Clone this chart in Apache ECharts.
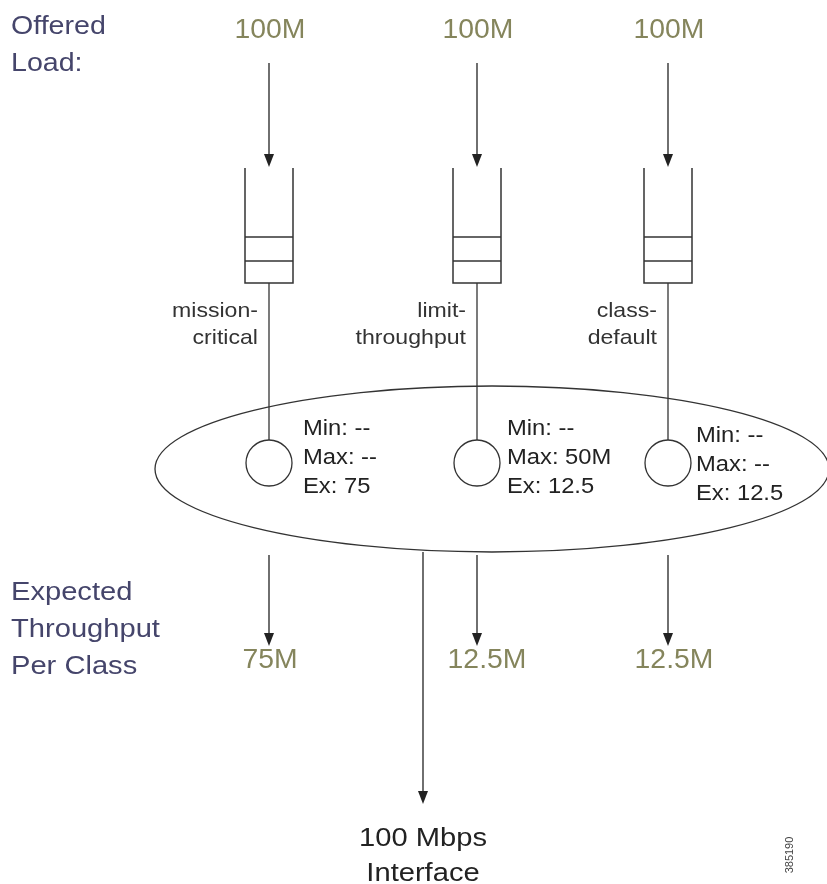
<!DOCTYPE html>
<html>
<head>
<meta charset="utf-8">
<script src="https://cdn.jsdelivr.net/npm/echarts@6/dist/echarts.min.js"></script>
<style>
  html, body { margin: 0; padding: 0; background: #fff; }
  #chart { width: 827px; height: 884px; }
</style>
</head>
<body>
<div id="chart"></div>
<script>
// data
var classNames = ['mission-\ncritical', 'limit-\nthroughput', 'class-\ndefault'];
var offeredLoad = ['100M', '100M', '100M'];
var minBw = ['--', '--', '--'];
var maxBw = ['--', '50M', '--'];
var excessShare = ['75', '12.5', '12.5'];
var expectedThroughput = ['75M', '12.5M', '12.5M'];
var interfaceLabel = '100 Mbps\nInterface';
var figureId = '385190';

// layout (pixel units on hidden axes)
var colX = [269, 477, 668];
var infoX = [303, 507, 696];
var infoY = [458, 458, 465];
var expectedDx = [1, 10, 6];

var font = '"Liberation Sans", Arial, sans-serif';
var olive = '#85855c';
var slate = '#45456b';
var ink = '#222';

function arrow(api, x, y1, y2) {
    var a = api.coord([x, y1]);
    var b = api.coord([x, y2]);
    return [
        { type: 'line', shape: { x1: a[0], y1: a[1], x2: b[0], y2: b[1] - 10 }, style: { stroke: ink, lineWidth: 1.3 } },
        { type: 'polygon', shape: { points: [[b[0] - 5, b[1] - 13], [b[0] + 5, b[1] - 13], [b[0], b[1]]] }, style: { fill: ink } }
    ];
}

// text with a slight horizontal stretch like the original artwork
function text(api, x, y, str, size, color, align, lh, sx) {
    var p = api.coord([x, y]);
    return {
        type: 'text',
        x: p[0], y: p[1],
        scaleX: sx || 1.1,
        style: {
            text: str, x: 0, y: 0,
            font: size + 'px ' + font,
            fill: color,
            align: align || 'center',
            verticalAlign: 'middle',
            lineHeight: lh || Math.round(size * 1.3)
        }
    };
}

function renderClass(params, api) {
    var i = params.dataIndex;
    var x = colX[i];
    var c = [];
    c.push(text(api, x + 1, 31, offeredLoad[i], 27, olive, 'center', 30, 1.05));
    c = c.concat(arrow(api, x, 63, 167));
    // queue
    var tl = api.coord([x - 24, 168]), br = api.coord([x + 24, 283]);
    c.push({ type: 'polyline', shape: { points: [[tl[0], tl[1]], [tl[0], br[1]], [br[0], br[1]], [br[0], tl[1]]] }, style: { stroke: '#333', lineWidth: 1.5, fill: null } });
    [237, 261].forEach(function (yy) {
        var p = api.coord([x, yy]);
        c.push({ type: 'line', shape: { x1: tl[0], y1: p[1], x2: br[0], y2: p[1] }, style: { stroke: '#333', lineWidth: 1.5 } });
    });
    var q1 = api.coord([x, 283]), q2 = api.coord([x, 440]);
    c.push({ type: 'line', shape: { x1: q1[0], y1: q1[1], x2: q2[0], y2: q2[1] }, style: { stroke: '#333', lineWidth: 1.3 } });
    var cc = api.coord([x, 463]);
    c.push({ type: 'circle', shape: { cx: cc[0], cy: cc[1], r: 23 }, style: { stroke: '#333', lineWidth: 1.3, fill: null } });
    c.push(text(api, x - 11, 325, classNames[i], 21, '#333', 'right', 27, 1.1));
    c.push(text(api, infoX[i], infoY[i], 'Min: ' + minBw[i] + '\nMax: ' + maxBw[i] + '\nEx: ' + excessShare[i], 22, ink, 'left', 29, 1.08));
    c = c.concat(arrow(api, x, 555, 646));
    c.push(text(api, x + expectedDx[i], 661, expectedThroughput[i], 27, olive, 'center', 30, 1.05));
    return { type: 'group', children: c };
}

function renderFrame(params, api) {
    var c = [];
    var e = api.coord([492, 469]);
    c.push({ type: 'ellipse', shape: { cx: e[0], cy: e[1], rx: 337, ry: 83 }, style: { stroke: '#333', lineWidth: 1.3, fill: null } });
    c.push(text(api, 11, 45, 'Offered\nLoad:', 26, slate, 'left', 37, 1.1));
    c.push(text(api, 11, 630, 'Expected\nThroughput\nPer Class', 26, slate, 'left', 37, 1.12));
    c = c.concat(arrow(api, 423, 552, 804));
    c.push(text(api, 423, 856, interfaceLabel, 26, ink, 'center', 35, 1.12));
    var f = api.coord([790, 855]);
    c.push({ type: 'text', x: f[0], y: f[1], rotation: Math.PI / 2, style: { text: figureId, x: 0, y: 0, font: '11px ' + font, fill: '#444', align: 'center', verticalAlign: 'middle' } });
    return { type: 'group', children: c };
}

var chart = echarts.init(document.getElementById('chart'));
chart.setOption({
    backgroundColor: '#fff',
    animation: false,
    grid: { left: 0, right: 0, top: 0, bottom: 0 },
    xAxis: { type: 'value', min: 0, max: 827, show: false },
    yAxis: { type: 'value', min: 0, max: 884, inverse: true, show: false },
    series: [
        {
            type: 'custom',
            clip: false,
            silent: true,
            renderItem: renderFrame,
            data: [[0, 0]]
        },
        {
            type: 'custom',
            clip: false,
            silent: true,
            renderItem: renderClass,
            data: colX.map(function (x) { return [x, 0]; })
        }
    ]
});
</script>
</body>
</html>
